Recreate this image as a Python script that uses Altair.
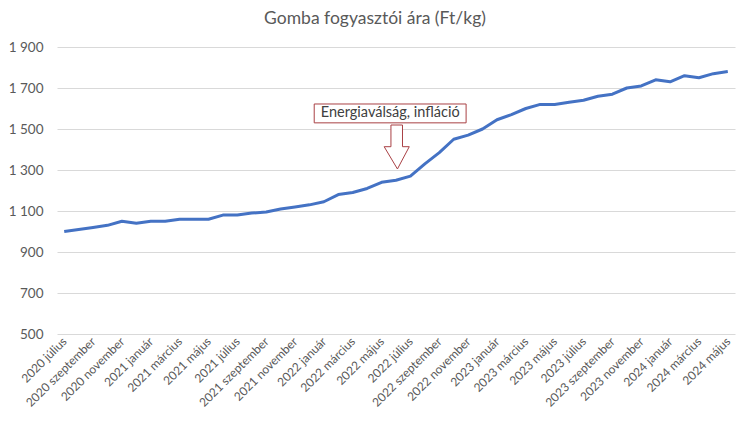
import altair as alt
import pandas as pd

months = [
    "2020 július", "2020 augusztus", "2020 szeptember", "2020 október", "2020 november", "2020 december",
    "2021 január", "2021 február", "2021 március", "2021 április", "2021 május", "2021 június",
    "2021 július", "2021 augusztus", "2021 szeptember", "2021 október", "2021 november", "2021 december",
    "2022 január", "2022 február", "2022 március", "2022 április", "2022 május", "2022 június",
    "2022 július", "2022 augusztus", "2022 szeptember", "2022 október", "2022 november", "2022 december",
    "2023 január", "2023 február", "2023 március", "2023 április", "2023 május", "2023 június",
    "2023 július", "2023 augusztus", "2023 szeptember", "2023 október", "2023 november", "2023 december",
    "2024 január", "2024 február", "2024 március", "2024 április", "2024 május",
]
prices = [
    1000, 1010, 1020, 1030, 1050, 1040,
    1050, 1050, 1060, 1060, 1060, 1080,
    1080, 1090, 1095, 1110, 1120, 1130,
    1145, 1180, 1190, 1210, 1240, 1250,
    1270, 1330, 1385, 1450, 1470, 1500,
    1545, 1570, 1600, 1620, 1620, 1630,
    1640, 1660, 1670, 1700, 1710, 1740,
    1730, 1760, 1750, 1770, 1780,
]
y_ticks = [500, 700, 900, 1100, 1300, 1500, 1700, 1900]
x_label_idx = list(range(0, len(months), 2))
x_labels = [months[i] for i in x_label_idx]

annotation_text = "Energiaválság, infláció"
# annotation box and arrow, placed in data units (month index, Ft/kg)
box_x = [17.33]
box_x2 = [27.86]
box_y = [1622]
box_y2 = [1530]
text_x = [22.6]
text_y = [1578]
arrow_x = [22.65, 23.45, 23.45, 23.92, 23.10, 22.18, 22.65, 22.65]
arrow_y = [1519.5, 1519.5, 1413.7, 1413.7, 1304.9, 1413.7, 1413.7, 1519.5]
head_x = [22.18, 23.10, 23.92]
head_y2 = [1413.7, 1304.9, 1413.7]

FONT = "Lato"
GRAY = "#595959"
RED = "#A94044"

df = pd.DataFrame({"x": list(range(len(months))), "y": prices, "month": months})
box_df = pd.DataFrame({"x": box_x, "x2": box_x2, "y": box_y, "y2": box_y2})
text_df = pd.DataFrame({"x": text_x, "y": text_y, "t": [annotation_text]})
arrow_df = pd.DataFrame({"x": arrow_x, "y": arrow_y, "o": list(range(len(arrow_x)))})
shaft_df = pd.DataFrame({"x": [arrow_x[0]], "x2": [arrow_x[1]], "y": [arrow_y[0]], "y2": [arrow_y[2]]})
head_df = pd.DataFrame({"x": head_x, "y": [head_y2[0]] * 3, "y2": head_y2})

label_array = "[" + ",".join("'" + s + "'" for s in x_labels) + "]"

xscale = alt.Scale(domain=[-0.5, len(months) - 0.5], nice=False, zero=False)
yscale = alt.Scale(domain=[500, 1900], nice=False, zero=False)

x_axis = alt.Axis(
    values=x_label_idx,
    labelExpr=label_array + "[round(datum.value/2)]",
    labelAngle=315,
    labelAlign="right",
    labelBaseline="middle",
    labelPadding=5,
    labelFont=FONT,
    labelFontSize=12,
    labelColor=GRAY,
    grid=False,
    ticks=False,
    domain=False,
    title=None,
    labelOverlap=False,
    labelBound=False,
    labelSeparation=0,
)
y_axis = alt.Axis(
    values=y_ticks,
    labelExpr="replace(format(datum.value, ','), ',', ' ')",
    labelFont=FONT,
    labelFontSize=13.5,
    labelColor=GRAY,
    labelPadding=14,
    grid=True,
    gridColor="#d9d9d9",
    gridWidth=1,
    ticks=False,
    domain=False,
    title=None,
)


def X(field="x"):
    return alt.X(field + ":Q", scale=xscale, axis=x_axis)


def Y(field="y"):
    return alt.Y(field + ":Q", scale=yscale, axis=y_axis)


line = alt.Chart(df).mark_line(color="#4472C4", strokeWidth=3, strokeJoin="round").encode(
    x=X(), y=Y()
)
box = alt.Chart(box_df).mark_rect(fill="white", stroke=RED, strokeWidth=1).encode(
    x=X(), x2="x2:Q", y=Y(), y2="y2:Q"
)
text = alt.Chart(text_df).mark_text(font=FONT, fontSize=14.5, color="#404040").encode(
    x=X(), y=Y(), text="t:N"
)
shaft = alt.Chart(shaft_df).mark_rect(fill="white").encode(
    x=X(), x2="x2:Q", y=Y(), y2="y2:Q"
)
head = alt.Chart(head_df).mark_area(fill="white", opacity=1).encode(
    x=X(), y=Y(), y2="y2:Q"
)
arrow = alt.Chart(arrow_df).mark_line(color=RED, strokeWidth=1, strokeJoin="miter").encode(
    x=X(), y=Y(), order="o:Q"
)

chart = alt.layer(line, box, text, shaft, head, arrow).properties(
    width=678,
    height=287,
    autosize=alt.AutoSizeParams(type="none"),
    padding={"left": 57, "top": 47, "right": 15, "bottom": 89},
    title=alt.TitleParams(
        text="Gomba fogyasztói ára (Ft/kg)",
        font=FONT,
        fontSize=17.5,
        fontWeight="normal",
        color=GRAY,
        anchor="middle",
        frame="group",
        dx=-21,
        offset=13,
    ),
).configure_view(stroke=None).configure_axisX(labelOverlap=False)

chart.save("out.html", embed_options={"renderer": "svg", "actions": False})
